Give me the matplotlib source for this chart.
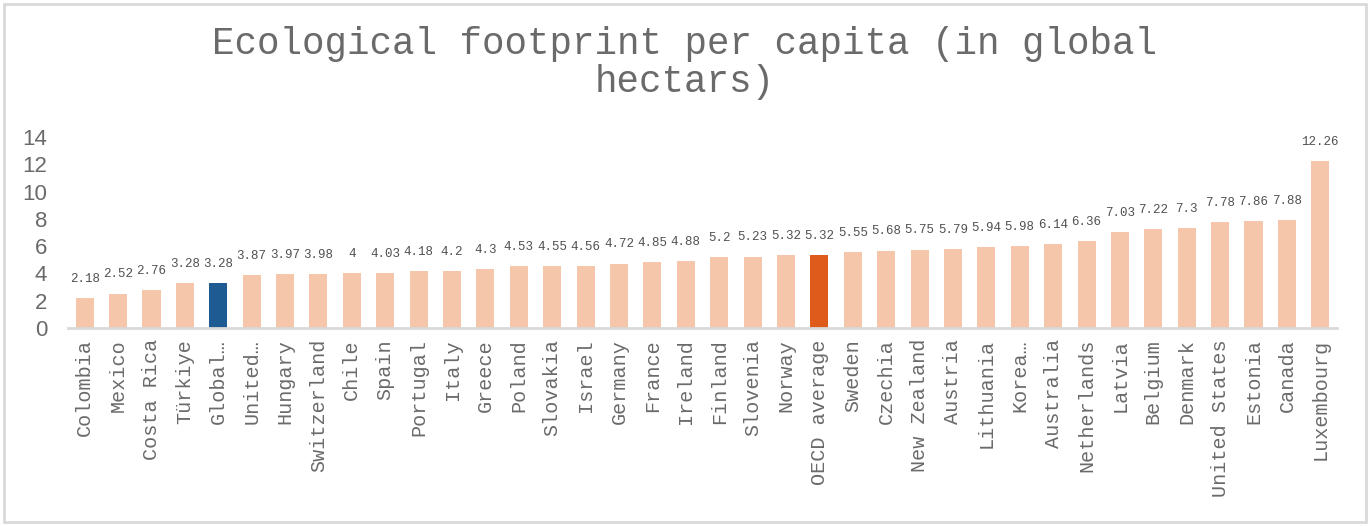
import matplotlib
matplotlib.use("Agg")
import matplotlib.pyplot as plt
from matplotlib.patches import Rectangle

countries = ["Colombia", "Mexico", "Costa Rica", "Türkiye", "Global…", "United…",
             "Hungary", "Switzerland", "Chile", "Spain", "Portugal", "Italy",
             "Greece", "Poland", "Slovakia", "Israel", "Germany", "France",
             "Ireland", "Finland", "Slovenia", "Norway", "OECD average", "Sweden",
             "Czechia", "New Zealand", "Austria", "Lithuania", "Korea…", "Australia",
             "Netherlands", "Latvia", "Belgium", "Denmark", "United States",
             "Estonia", "Canada", "Luxembourg"]
footprint = [2.18, 2.52, 2.76, 3.28, 3.28, 3.87, 3.97, 3.98, 4, 4.03, 4.18, 4.2,
             4.3, 4.53, 4.55, 4.56, 4.72, 4.85, 4.88, 5.2, 5.23, 5.32, 5.32, 5.55,
             5.68, 5.75, 5.79, 5.94, 5.98, 6.14, 6.36, 7.03, 7.22, 7.3, 7.78,
             7.86, 7.88, 12.26]
yticks = [0, 2, 4, 6, 8, 10, 12, 14]

base_col = "#F6C6AB"
highlight = {"Global…": "#1F5B93", "OECD average": "#DE5B1B"}
colors = [highlight.get(c, base_col) for c in countries]

mono = "Liberation Mono"

fig = plt.figure(figsize=(13.71, 5.26), dpi=100)
ax = fig.add_axes([68 / 1371, 1 - 328 / 526, (1337 - 68) / 1371, (328 - 137) / 526])

x = range(len(countries))
ax.bar(x, footprint, width=0.54, color=colors, zorder=2)

for xi, v in zip(x, footprint):
    ax.annotate(f"{v:g}", (xi, v), xytext=(0, 9.5), textcoords="offset points",
                ha="center", va="bottom", fontsize=9, color="#505050", family=mono)

ax.set_xlim(-0.5, len(countries) - 0.5)
ax.set_ylim(0, 14)
ax.set_yticks(yticks)
ax.set_yticklabels([str(t) for t in yticks], fontsize=16, color="#6a6a6a",
                   family="Liberation Sans")
ax.set_xticks(list(x))
ax.set_xticklabels(countries, rotation=90, fontsize=14.5, color="#6a6a6a", family=mono)
ax.tick_params(axis="both", length=0)
ax.tick_params(axis="y", pad=15)
ax.tick_params(axis="x", pad=8)

for s in ["top", "right", "left"]:
    ax.spines[s].set_visible(False)
ax.spines["bottom"].set_color("#D9D9D9")
ax.spines["bottom"].set_linewidth(2)

fig.text(685 / 1371, 1 - 63 / 526, "Ecological footprint per capita (in global\nhectars)",
         ha="center", va="center", fontsize=27, color="#6a6a6a", family=mono,
         linespacing=1.05)

fig.patches.append(Rectangle((4 / 1371, 4 / 526), 1362 / 1371, 518 / 526,
                             transform=fig.transFigure, fill=False,
                             edgecolor="#D9D9D9", linewidth=2))

fig.savefig("out.png", dpi=100)
